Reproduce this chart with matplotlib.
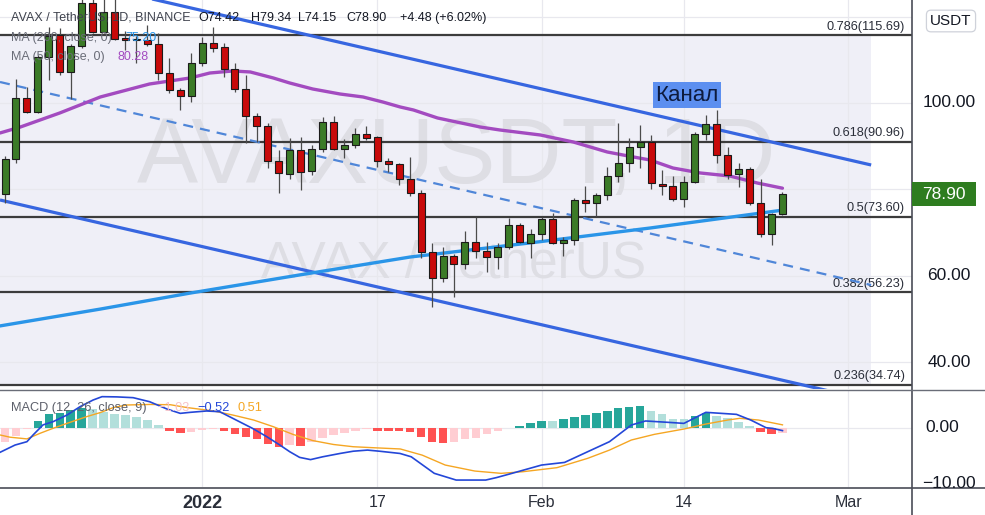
import numpy as np
import pandas as pd
import matplotlib
matplotlib.use("Agg")
import matplotlib.pyplot as plt
from matplotlib.patches import Rectangle
from matplotlib.lines import Line2D

plt.rcParams['font.family'] = ['Liberation Sans', 'DejaVu Sans']

# ---- daily AVAX/USDT candles, starting 2021-12-14 ----
start_date = pd.Timestamp('2021-12-14')
opens = [78.94, 87.04, 101.16, 97.92, 110.65, 115.74, 107.18, 113.19, 123.15, 116.44,
         121.06, 114.80, 114.50, 114.58, 113.66, 106.94, 103.01, 101.62, 109.26, 113.89,
         112.96, 107.87, 103.24, 96.99, 94.68, 86.57, 83.56, 89.12, 84.26, 89.35,
         95.60, 89.35, 90.28, 92.82, 92.13, 86.57, 85.88, 82.41, 79.17, 65.51,
         59.49, 64.58, 62.73, 67.82, 65.74, 64.35, 66.67, 71.76, 67.59, 69.68,
         73.15, 67.59, 68.29, 77.55, 76.85, 78.70, 83.10, 86.11, 89.81, 90.97,
         81.25, 80.79, 77.78, 81.71, 92.82, 95.14, 87.96, 83.56, 84.72, 76.85,
         69.68, 74.42]
highs = [87.70, 105.56, 103.70, 111.10, 117.59, 117.40, 113.70, 125.50, 125.50, 124.80,
         124.80, 116.67, 115.60, 118.06, 116.20, 110.42, 103.50, 111.57, 115.30, 117.59,
         113.89, 109.26, 106.48, 97.69, 95.37, 89.12, 91.90, 92.13, 90.28, 96.76,
         96.99, 91.67, 94.21, 94.68, 92.36, 87.27, 86.11, 87.50, 79.86, 67.59,
         66.67, 65.00, 70.37, 73.61, 67.82, 67.59, 73.38, 72.22, 70.83, 73.60,
         74.54, 68.98, 78.00, 80.79, 79.17, 85.19, 95.37, 91.90, 94.91, 92.59,
         84.49, 83.10, 83.10, 93.29, 97.22, 98.38, 89.81, 86.11, 85.19, 82.41,
         74.60, 79.34]
lows = [76.85, 86.11, 97.60, 97.80, 105.32, 106.48, 100.93, 112.70, 116.20, 116.20,
        114.60, 112.30, 109.30, 113.20, 105.32, 102.31, 98.38, 100.23, 108.60, 111.81,
        106.02, 102.55, 90.74, 90.97, 84.95, 79.17, 82.41, 79.86, 83.33, 88.66,
        89.12, 87.27, 89.58, 91.44, 85.19, 84.03, 81.02, 78.50, 64.12, 52.78,
        58.56, 55.09, 61.57, 64.12, 60.88, 61.57, 66.20, 67.59, 64.12, 68.29,
        67.36, 64.58, 67.13, 74.77, 73.84, 77.55, 81.71, 84.03, 84.95, 80.09,
        78.70, 77.31, 75.93, 81.48, 91.44, 86.11, 82.41, 80.56, 76.39, 68.98,
        67.13, 74.15]
closes = [87.04, 101.16, 97.92, 110.65, 115.51, 107.18, 113.19, 123.15, 116.44, 121.06,
          114.81, 114.60, 114.70, 113.66, 106.94, 103.01, 101.62, 109.26, 113.89, 112.73,
          107.87, 103.24, 96.99, 94.68, 86.57, 83.80, 89.12, 84.03, 89.35, 95.60,
          89.35, 90.28, 92.82, 91.90, 86.57, 85.88, 82.41, 79.17, 65.51, 59.49,
          64.58, 62.73, 67.82, 65.74, 64.35, 66.67, 71.76, 67.82, 69.68, 73.15,
          67.59, 68.29, 77.55, 76.85, 78.70, 83.10, 86.11, 89.81, 90.97, 81.48,
          80.79, 77.78, 81.71, 92.82, 95.14, 87.96, 83.33, 84.72, 76.85, 69.68,
          74.42, 78.90]

# moving averages (candle position, value)
ma200_x = [-0.46, 8.7, 16.9, 26.9, 37.0, 47.9, 58.9, 71.0]
ma200_v = [48.4, 52.3, 56.0, 60.2, 64.35, 67.6, 71.06, 75.20]
ma50_x = [-0.46, 1.4, 5.0, 8.7, 13.2, 16.9, 18.7, 20.8, 22.4, 24.5, 26.0, 28.1, 30.6,
          32.7, 34.5, 36.1, 37.3, 39.5, 43.4, 45.2, 48.9, 51.9, 55.0, 57.4, 58.9,
          61.0, 63.5, 66.2, 68.7, 71.0]
ma50_v = [93.06, 94.44, 97.69, 101.39, 104.40, 105.79, 106.94, 107.41, 107.18, 105.79,
          104.63, 103.24, 102.08, 101.39, 100.23, 99.07, 98.38, 96.53, 94.44, 93.75,
          92.59, 90.97, 88.66, 87.50, 86.81, 84.95, 83.80, 83.10, 81.48, 80.28]

# parallel channel anchors (candle position, price)
channel_x = [-0.46, 79.1]
channel_upper = [132.2, 85.65]
channel_mid = [104.86, 57.87]
channel_lower = [77.55, 31.1]

# Fibonacci retracement levels
fib_ratios = ['0.786', '0.618', '0.5', '0.382', '0.236']
fib_prices = [115.69, 90.96, 73.60, 56.23, 34.74]

# MACD (12, 26, close, 9)
macd_hist = [-2.6, -1.4, -0.3, 1.2, 2.4, 2.6, 3.15, 3.45, 3.27, 2.86,
             2.38, 2.26, 1.85, 1.43, 0.48, -0.6, -1.0, -0.8, -0.35, -0.3,
             -0.54, -1.13, -1.6, -2.08, -2.86, -3.39, -3.1, -3.27, -2.62, -1.79,
             -1.31, -0.89, -0.6, -0.3, -0.6, -0.62, -0.65, -0.85, -1.6, -2.55,
             -2.65, -2.6, -1.95, -1.8, -1.2, -0.6, -0.05, 0.3, 0.9, 1.2,
             1.15, 1.6, 1.95, 2.25, 2.65, 2.95, 3.45, 3.75, 3.8, 3.0,
             2.4, 1.6, 1.5, 2.1, 2.55, 2.1, 1.65, 1.05, 0.3, -0.85,
             -1.15, -1.03]
macd_x = [-0.46, 0.91, 2.0, 2.56, 3.47, 4.38, 5.66, 6.85, 8.04, 8.86, 10.2, 11.7, 13.2,
          14.8, 16.0, 16.9, 18.4, 19.6, 20.8, 22.6, 23.9, 25.1, 26.0, 26.9, 27.9, 29.0,
          30.6, 31.8, 33.1, 34.2, 36.07, 37.1, 39.2, 41.2, 43.9, 44.9, 46.3, 49.0, 51.1,
          53.2, 55.2, 57.2, 58.5, 60.6, 62.0, 64.0, 65.4, 66.8, 68.1, 69.5, 70.1, 71.0]
macd_v = [-4.4, -3.1, -2.5, -1.3, 0.5, 1.07, 2.26, 3.75, 4.94, 5.54, 5.5, 5.36, 4.64,
          3.33, 2.56, 2.74, 2.98, 2.86, 1.67, -0.12, -1.6, -3.1, -4.29, -5.3, -5.7, -5.2,
          -4.6, -4.2, -4.0, -4.2, -4.6, -5.2, -8.15, -9.35, -9.35, -8.9, -8.15, -6.67, -6.2,
          -4.3, -2.5, 0.48, 1.2, 0.95, 0.77, 2.74, 2.56, 2.38, 1.37, 0.0, -0.12, -0.52]
signal_x = [-0.46, 0.46, 2.0, 3.2, 4.4, 5.7, 7.5, 8.7, 9.9, 11.1, 13.2, 15.1, 16.6, 19.0,
            20.8, 22.7, 24.5, 26.3, 28.1, 30.0, 31.8, 33.9, 36.1, 38.1, 40.2, 42.9, 45.3,
            47.3, 50.4, 53.2, 55.2, 57.2, 59.3, 62.0, 64.0, 66.0, 67.1, 68.8, 71.0]
signal_v = [-1.3, -1.7, -2.0, -1.0, -0.1, 0.8, 2.0, 2.7, 3.6, 4.05, 4.15, 4.1, 3.6, 3.0,
            2.26, 1.37, 0.18, -1.2, -2.3, -3.0, -3.4, -3.6, -3.8, -4.9, -6.67, -7.74, -8.15,
            -7.86, -7.14, -5.48, -4.0, -2.2, -1.19, -0.24, 0.65, 1.37, 1.67, 1.37, 0.51]

tick_dates = ['2022-01-01', '2022-01-17', '2022-02-01', '2022-02-14', '2022-03-01']
tick_labels = ['2022', '17', 'Feb', '14', 'Mar']
price_ticks = [40, 60, 80, 100, 120]
price_labels = {40: '40.00', 60: '60.00', 100: '100.00'}

# ---- colours ----
UP, DOWN = '#3b7b27', '#c80a0a'
TEXT = '#131722'
GRID = '#e8e8ee'
AXLINE = '#4a4d57'

W, H = 985, 515
fig = plt.figure(figsize=(W / 100, H / 100), dpi=100)
fig.patch.set_facecolor('white')


def fpos(left, top, right, bottom):
    return [left / W, 1 - bottom / H, (right - left) / W, (bottom - top) / H]


ax = fig.add_axes(fpos(0, 0, 912, 389))
axm = fig.add_axes(fpos(0, 390, 912, 487), sharex=ax)
for a in (ax, axm):
    a.set_facecolor('white')
    for s in a.spines.values():
        s.set_visible(False)
    a.tick_params(left=False, right=False, bottom=False, top=False,
                  labelleft=False, labelright=False, labelbottom=False)

n = len(opens)
xs = np.arange(n)
ax.set_xlim(-0.46, 82.83)
ax.set_ylim(33.8, 123.84)
axm.set_ylim(-10.59, 6.73)

tick_pos = [(pd.Timestamp(d) - start_date).days for d in tick_dates]

# grid
for a in (ax, axm):
    for tp in tick_pos:
        a.axvline(tp, color=GRID, lw=0.9, zorder=0.6)
for p in price_ticks:
    ax.axhline(p, color=GRID, lw=0.9, zorder=0.6)
axm.axhline(0, color=GRID, lw=0.9, zorder=0.6)

# shaded retracement zone
ax.add_patch(Rectangle((channel_x[0], fib_prices[-1]), channel_x[1] - channel_x[0],
                       fib_prices[0] - fib_prices[-1], facecolor='#efeff7',
                       edgecolor='none', zorder=0.5))

# watermark
ax.text(41.2, 81.5, 'AVAXUSDT, 1D', fontsize=66, color='#dedee4', ha='center',
        va='baseline', zorder=1)
ax.text(41.0, 59.7, 'AVAX / TetherUS', fontsize=37, color='#dedee4', ha='center',
        va='baseline', zorder=1)

# Fibonacci levels
for r, p in zip(fib_ratios, fib_prices):
    ax.axhline(p, color='#3c3c3c', lw=1.6, zorder=2)
    ax.text(82.2, p + 0.6, f'{r}({p:.2f})', fontsize=9.2, color='#2a2e39',
            ha='right', va='bottom', zorder=2)

# channel
ax.plot(channel_x, channel_upper, color='#3766e0', lw=2.3, zorder=3, solid_capstyle='butt')
ax.plot(channel_x, channel_lower, color='#3766e0', lw=2.3, zorder=3, solid_capstyle='butt')
ax.plot(channel_x, channel_mid, color='#4f86d8', lw=1.6, zorder=3, dashes=(4.5, 3.2))

# moving averages
ax.plot(ma200_x, ma200_v, color='#2a95e8', lw=2.4, zorder=4, solid_capstyle='round')
ax.plot(ma50_x, ma50_v, color='#a34bc0', lw=2.4, zorder=4, solid_capstyle='round')

# candles
o = np.array(opens); h = np.array(highs); l = np.array(lows); c = np.array(closes)
up = c >= o
ax.vlines(xs, l, h, color='#4b4b4b', lw=0.9, zorder=5)
body_lo = np.minimum(o, c)
body_h = np.maximum(np.abs(c - o), 0.35)
ax.bar(xs, body_h, bottom=body_lo, width=0.64,
       color=np.where(up, UP, DOWN), edgecolor='#1b1b1b', linewidth=0.8, zorder=6)

# channel label
ax.text(62.3, 101.8, 'Канал', fontsize=16, color='#0d1b3e', ha='center', va='center',
        zorder=7, bbox=dict(boxstyle='square,pad=0.12', fc='#5c8ff0', ec='none'))

# MACD histogram
hist = np.array(macd_hist)
prev = np.concatenate([[-np.inf], hist[:-1]])
cols = np.where(hist >= 0,
                np.where(hist >= prev, '#26a69a', '#b2dfdb'),
                np.where(hist >= prev, '#ffcdd2', '#ff5252'))
axm.bar(xs, hist, width=0.78, color=cols, zorder=2)
axm.plot(signal_x, signal_v, color='#f5a623', lw=1.0, zorder=3)
axm.plot(macd_x, macd_v, color='#2447d8', lw=1.2, zorder=4)

# date labels
axm.set_xticks(tick_pos)
axm.set_xticklabels(tick_labels)
axm.tick_params(labelbottom=True, pad=2, labelsize=11.5, labelcolor='#2a2e39')
axm.get_xticklabels()[0].set_fontweight('bold')
axm.get_xticklabels()[0].set_fontsize(13)

# figure-level frame lines
fig.add_artist(Line2D([912 / W, 912 / W], [0, 1], color=AXLINE, lw=1.2))
fig.add_artist(Line2D([0, 1], [1 - 487.5 / H] * 2, color=AXLINE, lw=1.2))
fig.add_artist(Line2D([0, 1], [1 - 390 / H] * 2, color='#6a6d78', lw=1.0))


def fig_y(a, v):
    return fig.transFigure.inverted().transform(a.transData.transform((0, v)))[1]


# price scale
for p, lab in price_labels.items():
    fig.text(949 / W, fig_y(ax, p), lab, fontsize=12.5, color=TEXT, ha='center', va='center')
fig.text(942 / W, fig_y(axm, 0), '0.00', fontsize=12.5, color=TEXT, ha='center', va='center')
fig.text(949 / W, fig_y(axm, -10), '\u221210.00', fontsize=12.5, color=TEXT,
         ha='center', va='center')
fig.add_artist(Rectangle((913 / W, 0), 72 / W, 1 - 488.5 / H, transform=fig.transFigure,
                         facecolor='white', edgecolor='none', zorder=3))

# last price tag
yl = fig_y(ax, closes[-1])
fig.add_artist(Rectangle((912 / W, yl - 12 / H), 64 / W, 24 / H, transform=fig.transFigure,
                         facecolor='#2e7d1f', edgecolor='none', zorder=4))
fig.text(944 / W, yl, f'{closes[-1]:.2f}', fontsize=12.5, color='white', ha='center',
         va='center', zorder=5)

# currency box
fig.text(951 / W, 1 - 21 / H, 'USDT', fontsize=11, color=TEXT, ha='center', va='center',
         bbox=dict(boxstyle='round,pad=0.25,rounding_size=0.3', fc='white', ec='#cfd2da', lw=0.9))

# legends
chg = closes[-1] - opens[-1]
fig.text(11 / W, 1 - 18 / H, 'AVAX / TetherUS, 1D, BINANCE', fontsize=9, color='#3e424d',
         va='center', zorder=10)
row = [(198, f'O{opens[-1]:.2f}'), (251, f'H{highs[-1]:.2f}'), (298, f'L{lows[-1]:.2f}'),
       (346, f'C{closes[-1]:.2f}'), (400, f'+{chg:.2f} (+{chg / opens[-1] * 100:.2f}%)')]
for xp, s in row:
    fig.text(xp / W, 1 - 18 / H, s, fontsize=9, color=TEXT, va='center', zorder=10)

fig.text(11 / W, 1 - 38 / H, 'MA (200, close, 0)', fontsize=9, color='#6a6d78', va='center', zorder=10)
fig.text(125 / W, 1 - 38 / H, f'{ma200_v[-1]:.2f}', fontsize=9, color='#2a95e8', va='center', zorder=10)
fig.text(11 / W, 1 - 57 / H, 'MA (50, close, 0)', fontsize=9, color='#6a6d78', va='center', zorder=10)
fig.text(118 / W, 1 - 57 / H, f'{ma50_v[-1]:.2f}', fontsize=9, color='#a34bc0', va='center', zorder=10)

fig.text(11 / W, 1 - 408 / H, 'MACD (12, 26, close, 9)', fontsize=9.2, color='#5d606b', va='center')
fig.text(157 / W, 1 - 408 / H, f'{macd_hist[-1]:.2f}'.replace('-', '\u2212'), fontsize=9.2,
         color='#f6c3c9', va='center')
fig.text(197 / W, 1 - 408 / H, f'{macd_v[-1]:.2f}'.replace('-', '\u2212'), fontsize=9.2,
         color='#2447d8', va='center')
fig.text(238 / W, 1 - 408 / H, f'{signal_v[-1]:.2f}', fontsize=9.2, color='#f5a623', va='center')

fig.savefig('out.png', dpi=100)
